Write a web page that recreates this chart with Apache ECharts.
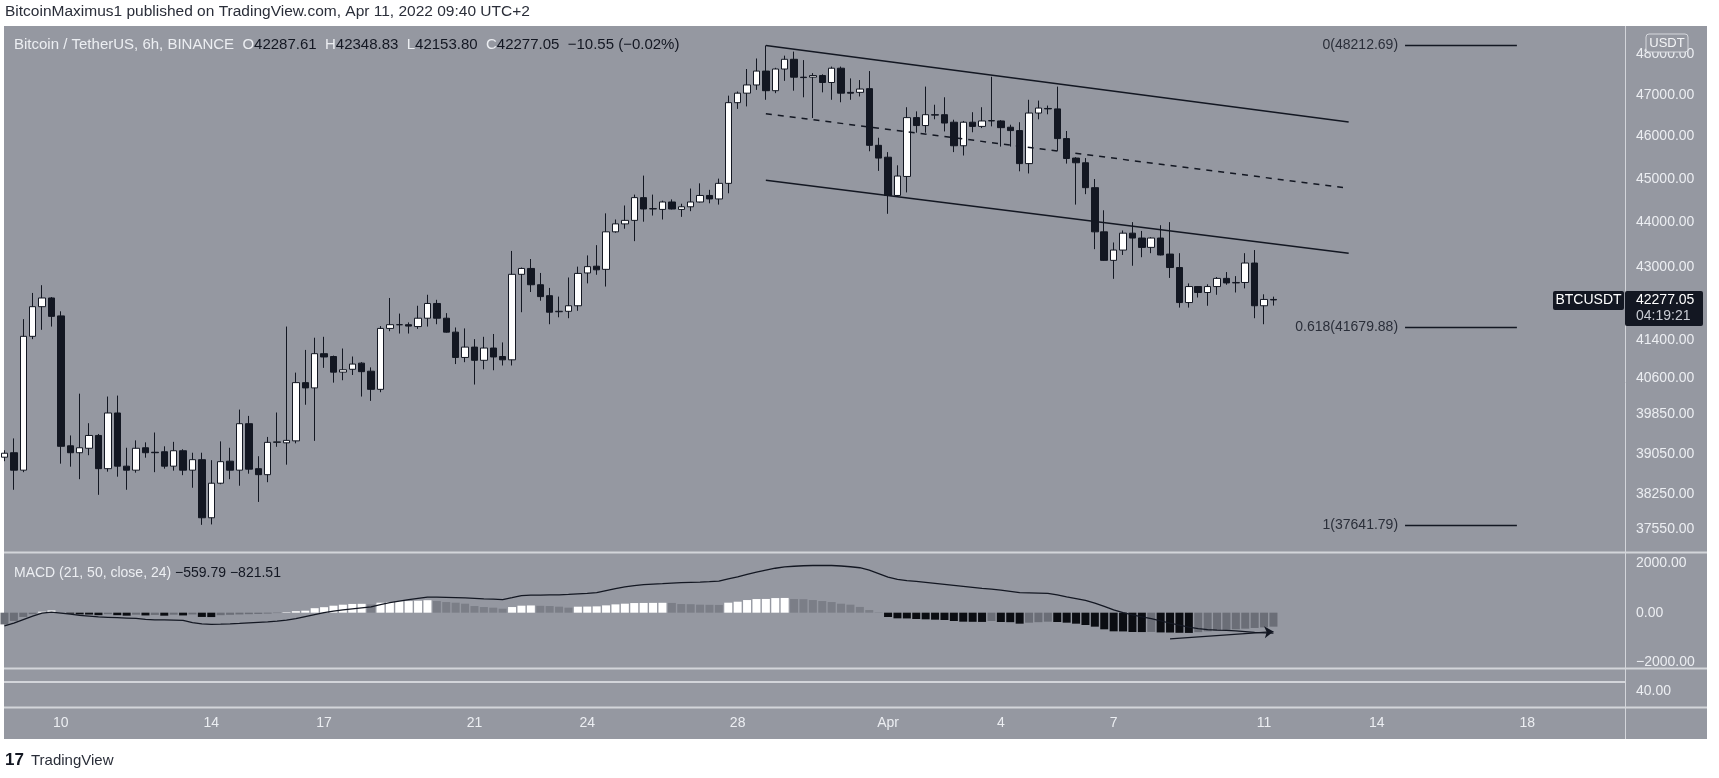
<!DOCTYPE html>
<html>
<head>
<meta charset="utf-8">
<title>BTCUSDT 6h</title>
<script src="https://cdn.jsdelivr.net/npm/echarts@6/dist/echarts.min.js"></script>
<style>
html, body { margin: 0; padding: 0; background: #fff; }
#chart { width: 1719px; height: 778px; }
</style>
</head>
<body>
<div id="chart"></div>
<script>
// 6h bars from Mar 8 14:00 to Apr 11 08:00 (UTC+2): [open, close, low, high]
var candles = [
  [38980, 39060, 38900, 39120], [39070, 38720, 38330, 39360], [38720, 41490, 38680, 41860], [41490, 42130, 41430, 42430],
  [42130, 42320, 41630, 42600], [42320, 41920, 41700, 42340], [41930, 39200, 38850, 42030], [39210, 39070, 38790, 39420],
  [39070, 39170, 38540, 40280], [39160, 39420, 39020, 39670], [39420, 38750, 38230, 39450], [38750, 39880, 38690, 40220],
  [39880, 38800, 38590, 40240], [38800, 38720, 38330, 39170], [38720, 39160, 38670, 39320], [39170, 39070, 38970, 39280],
  [39080, 39070, 38680, 39480], [39090, 38800, 38750, 39200], [38800, 39110, 38710, 39290], [39110, 38720, 38620, 39140],
  [38720, 38930, 38370, 39070], [38930, 37780, 37642, 39070], [37780, 38460, 37650, 38920], [38460, 38890, 38440, 39300],
  [38900, 38720, 38540, 39170], [38720, 39660, 38410, 39950], [39660, 38740, 38650, 39820], [38750, 38630, 38090, 39000],
  [38630, 39280, 38480, 39390], [39280, 39290, 39190, 39890], [39270, 39320, 38830, 41700], [39310, 40510, 39260, 40720],
  [40510, 40400, 40050, 41200], [40400, 41120, 39310, 41460], [41120, 41050, 40820, 41480], [41060, 40730, 40510, 41080],
  [40730, 40780, 40560, 41230], [40790, 40900, 40670, 41060], [40920, 40740, 40220, 40940], [40750, 40370, 40130, 40830],
  [40370, 41660, 40310, 41710], [41660, 41740, 41600, 42320], [41740, 41740, 41550, 41980], [41740, 41710, 41550, 41790],
  [41700, 41880, 41650, 42150], [41880, 42200, 41700, 42390], [42200, 41880, 41750, 42280], [41880, 41580, 41570, 41990],
  [41580, 41040, 40900, 41680], [41040, 41260, 40940, 41660], [41260, 40980, 40470, 41430], [40980, 41240, 40790, 41480],
  [41240, 41050, 40770, 41540], [41060, 40990, 40870, 41360], [40990, 42840, 40870, 43360], [42840, 42970, 42010, 42990],
  [42970, 42610, 42450, 43180], [42610, 42350, 42260, 42870], [42370, 42010, 41750, 42540], [42020, 42030, 41900, 42350],
  [42030, 42150, 41880, 42770], [42150, 42860, 42040, 43010], [42870, 43010, 42640, 43260], [43020, 42940, 42830, 43490],
  [42950, 43790, 42570, 44210], [43790, 43970, 43770, 44070], [43970, 44050, 43860, 44390], [44050, 44570, 43580, 44640],
  [44570, 44310, 44020, 45080], [44310, 44320, 44160, 44640], [44300, 44470, 44070, 44500], [44470, 44310, 44300, 44530],
  [44300, 44360, 44130, 44430], [44360, 44470, 44260, 44780], [44470, 44620, 44460, 44900], [44620, 44540, 44440, 44750],
  [44540, 44900, 44410, 45010], [44900, 46810, 44670, 46980], [46810, 47040, 46660, 47080], [47040, 47240, 46720, 47630],
  [47240, 47580, 47120, 47890], [47580, 47100, 46880, 48212.69], [47100, 47630, 47040, 47660], [47630, 47870, 47340, 47960],
  [47870, 47430, 47100, 48060], [47430, 47420, 46940, 47850], [47430, 47470, 46440, 47530], [47470, 47300, 47060, 47500],
  [47300, 47650, 46880, 47690], [47650, 47040, 46820, 47690], [47060, 47040, 46880, 47400], [47060, 47140, 46960, 47360],
  [47150, 45790, 45650, 47580], [45790, 45490, 45190, 45970], [45510, 44620, 44200, 45630], [44620, 45070, 44600, 45320],
  [45060, 46450, 44690, 46700], [46450, 46260, 46090, 46600], [46260, 46520, 46090, 47200], [46520, 46510, 46410, 46760],
  [46520, 46320, 46120, 46940], [46340, 45780, 45630, 46400], [45780, 46340, 45550, 46370], [46340, 46240, 46100, 46580],
  [46240, 46370, 46200, 46700], [46370, 46380, 46240, 47440], [46370, 46210, 45760, 46390], [46220, 46140, 45760, 46280],
  [46140, 45360, 45180, 46340], [45360, 46560, 45130, 46880], [46560, 46680, 46410, 46860], [46670, 46660, 46530, 46740],
  [46660, 45950, 45660, 47200], [45950, 45480, 45360, 46130], [45490, 45380, 44410, 45510], [45380, 44800, 44650, 45490],
  [44800, 43790, 43400, 45000], [43790, 43150, 43140, 44280], [43150, 43380, 42740, 43550], [43380, 43760, 43270, 43820],
  [43760, 43650, 43030, 44010], [43650, 43440, 43220, 43810], [43440, 43650, 43310, 43670], [43650, 43270, 43260, 43940],
  [43290, 42990, 42760, 44010], [42990, 42220, 42110, 43310], [42220, 42570, 42110, 42640], [42570, 42440, 42330, 42580],
  [42440, 42570, 42150, 42620], [42570, 42750, 42390, 42780], [42750, 42650, 42610, 42890], [42650, 42660, 42440, 42800],
  [42660, 43090, 42530, 43310], [43090, 42150, 41880, 43380], [42150, 42287.61, 41750, 42400], [42287.61, 42277.05, 42153.80, 42348.83]
];

// MACD (21, 50, close, 24)
var macdHist = [
  -470, -330, -170, -60, 40, 90, 10, -40, -70, -75,
  -100, -60, -100, -120, -80, -110, -90, -120, -80, -110,
  -70, -170, -175, -100, -85, -70, -60, -50, -35, -15,
  20, 60, 80, 180, 220, 280, 320, 350, 355, 330,
  400, 430, 460, 465, 480, 500, 466, 426, 400, 360,
  266, 226, 200, 160, 226, 280, 290, 275, 266, 240,
  200, 240, 245, 253, 293, 333, 360, 386, 390, 393,
  396, 390, 346, 340, 320, 315, 310, 400, 440, 506,
  546, 550, 585, 590, 546, 540, 506, 466, 426, 360,
  320, 230, 106, 15, -173, -226, -230, -253, -266, -280,
  -293, -333, -360, -365, -370, -333, -373, -380, -440, -400,
  -380, -360, -373, -400, -440, -493, -560, -666, -746, -750,
  -773, -776, -770, -790, -795, -805, -810, -780, -745, -715,
  -690, -665, -640, -612, -590, -559.79
];
var macdLine = [
  -530, -420, -280, -140, -20, 20, -20, -60, -110, -140,
  -170, -185, -200, -215, -230, -270, -285, -290, -300, -310,
  -400, -450, -466, -460, -450, -430, -405, -385, -365, -340,
  -300, -240, -160, -80, 0, 60, 110, 150, 190, 230,
  320, 400, 460, 520, 570, 620, 625, 615, 605, 590,
  570, 550, 540, 525, 600, 680, 700, 705, 710, 715,
  730, 750, 770, 800, 880, 960, 1030, 1080, 1120, 1145,
  1160, 1180, 1200, 1215, 1225, 1240, 1265, 1350, 1430, 1530,
  1620, 1700, 1780, 1835, 1860, 1880, 1890, 1890, 1890, 1870,
  1840, 1800, 1700, 1560, 1420, 1330, 1280, 1250, 1210, 1170,
  1130, 1090, 1050, 1010, 970, 940, 900, 850, 800, 790,
  780, 770, 710, 630, 560, 490, 380, 250, 110, 0,
  -90, -170, -240, -330, -420, -500, -580, -640, -680, -700,
  -710, -730, -760, -790, -810, -821.51
];

var priceTicks = [48000, 47000, 46000, 45000, 44000, 43000, 41400, 40600, 39850, 39050, 38250, 37550];
var macdTicks = [2000, 0, -2000];
var lowerTicks = [40];
var dayTickIdx = [6, 22, 34, 50, 62, 78, 94, 106, 118, 134, 146, 162];
var dayTickText = ['10', '14', '17', '21', '24', '28', 'Apr', '4', '7', '11', '14', '18'];

// drawings, in bar index / price
var fibLevels = [48212.69, 41679.88, 37641.79];
var fibNames = ['0', '0.618', '1'];
var fibSpan = [149, 160.9];
var channelTop = [81, 48212.69, 143, 46344];
var channelMid = [81, 46543, 142.4, 44804];
var channelBot = [81, 44972, 143, 43307];
var macdArrow = [124, -1048, 135, -757];
var lastClose = 42277.05;
var timeLeft = '04:19:21';

var FONT = "'Liberation Sans', Arial, sans-serif";
var BG = '#9598a1';
var DARK = '#131722';
var LIGHT = '#eceef2';
var SEP = '#d3d5da';

var xMin = -0.05, xMax = 172.4;

var chart = echarts.init(document.getElementById('chart'));

var fmt2 = function(v) {
  var s = Math.abs(Math.round(v)).toFixed(2);
  return v < 0 ? '\u2212' + s : s;
};

var histColor = function(i) {
  var v = macdHist[i];
  var p = i > 0 ? macdHist[i - 1] : v;
  if (v >= 0) return v >= p ? '#ffffff' : '#7b7e87';
  return v < p ? '#0b0d12' : '#6b6e77';
};

var segLine = function(seg, dashed) {
  return [
    {coord: [seg[0], seg[1]], lineStyle: {color: DARK, width: 1.5, type: dashed ? [6, 6] : 'solid'}},
    {coord: [seg[2], seg[3]]}
  ];
};

var drawLines = [segLine(channelTop), segLine(channelMid, true), segLine(channelBot)];
for (var k = 0; k < fibLevels.length; k++) {
  drawLines.push([
    {coord: [fibSpan[0], fibLevels[k]], lineStyle: {color: DARK, width: 1.3, type: 'solid'},
     label: {show: true, position: 'start', distance: 7, color: '#2a2e39', fontSize: 14, fontFamily: FONT,
             formatter: fibNames[k] + '(' + fibLevels[k].toFixed(2) + ')'}},
    {coord: [fibSpan[1], fibLevels[k]]}
  ]);
}

var hideAxis = {show: false};

var baseGraphics = [
  {id: 'bg', type: 'rect', z: -5, silent: true, shape: {x: 4, y: 26, width: 1703, height: 713}, style: {fill: BG}},
  {id: 's1', type: 'line', z: 50, silent: true, shape: {x1: 4, y1: 552.5, x2: 1707, y2: 552.5}, style: {stroke: SEP, lineWidth: 2}},
  {id: 's2', type: 'line', z: 50, silent: true, shape: {x1: 4, y1: 668.5, x2: 1707, y2: 668.5}, style: {stroke: SEP, lineWidth: 2}},
  {id: 's3', type: 'line', z: 50, silent: true, shape: {x1: 4, y1: 682, x2: 1625, y2: 682}, style: {stroke: SEP, lineWidth: 2}},
  {id: 's4', type: 'line', z: 50, silent: true, shape: {x1: 4, y1: 707.5, x2: 1707, y2: 707.5}, style: {stroke: SEP, lineWidth: 2}},
  {id: 's5', type: 'line', z: 50, silent: true, shape: {x1: 1625.5, y1: 26, x2: 1625.5, y2: 739}, style: {stroke: SEP, lineWidth: 1}},
  {id: 'head', type: 'text', z: 60, x: 5, y: 12, style: {
    text: 'BitcoinMaximus1 published on TradingView.com, Apr 11, 2022 09:40 UTC+2',
    fill: '#2a2e39', font: '15.5px ' + FONT, verticalAlign: 'middle'}},
  {id: 'sym', type: 'text', z: 60, x: 14, y: 45, style: {
    text: '{l|Bitcoin / TetherUS, 6h, BINANCE}  {l|O}{d|42287.61}  {l|H}{d|42348.83}  {l|L}{d|42153.80}  {l|C}{d|42277.05}  {d|\u221210.55 (\u22120.02%)}',
    verticalAlign: 'middle', font: '15px ' + FONT,
    rich: {l: {fill: LIGHT, font: '15px ' + FONT}, d: {fill: DARK, font: '15px ' + FONT}}}},
  {id: 'macdT', type: 'text', z: 60, x: 14, y: 573, style: {
    text: '{l|MACD (21, 50, close, 24)} {d|\u2212559.79} {d|\u2212821.51}',
    verticalAlign: 'middle', font: '14px ' + FONT,
    rich: {l: {fill: LIGHT, font: '14px ' + FONT}, d: {fill: DARK, font: '14px ' + FONT}}}},
  {id: 'usdt', type: 'rect', z: 60, silent: true, shape: {x: 1646, y: 34, width: 42, height: 18, r: 3},
   style: {fill: BG, stroke: '#d6d8dd', lineWidth: 1}},
  {id: 'usdtT', type: 'text', z: 61, x: 1667, y: 43, style: {
    text: 'USDT', fill: '#f4f5f7', font: '13px ' + FONT, align: 'center', verticalAlign: 'middle'}},
  {id: 'logo', type: 'text', z: 60, x: 5, y: 760, style: {
    text: '17', fill: DARK, font: 'bold 17px ' + FONT, verticalAlign: 'middle'}},
  {id: 'logoT', type: 'text', z: 60, x: 31, y: 761, style: {
    text: 'TradingView', fill: '#2a2e39', font: '15px ' + FONT, verticalAlign: 'middle'}}
];

var option = {
  animation: false,
  backgroundColor: '#ffffff',
  grid: [
    {left: 4, top: 26, width: 1621, height: 526},
    {left: 4, top: 553, width: 1621, height: 115},
    {left: 4, top: 668, width: 1621, height: 39}
  ],
  xAxis: [
    {type: 'value', gridIndex: 0, min: xMin, max: xMax, show: false},
    {type: 'value', gridIndex: 1, min: xMin, max: xMax, show: false},
    {type: 'value', gridIndex: 2, min: xMin, max: xMax,
     axisLine: hideAxis, axisTick: hideAxis, splitLine: hideAxis,
     axisLabel: {customValues: dayTickIdx, color: LIGHT, fontSize: 14, fontFamily: FONT, margin: 9,
       formatter: function(v) {
         var k = dayTickIdx.indexOf(Math.round(v));
         return k >= 0 ? dayTickText[k] : '';
       }}}
  ],
  yAxis: [
    {type: 'log', gridIndex: 0, position: 'right', min: 37118, max: 48700,
     axisLine: hideAxis, axisTick: hideAxis, splitLine: hideAxis,
     axisLabel: {customValues: priceTicks, color: LIGHT, fontSize: 14, fontFamily: FONT, margin: 11,
       formatter: fmt2}},
    {type: 'value', gridIndex: 1, position: 'right', min: -2215, max: 2390,
     axisLine: hideAxis, axisTick: hideAxis, splitLine: hideAxis,
     axisLabel: {customValues: macdTicks, color: LIGHT, fontSize: 14, fontFamily: FONT, margin: 11,
       formatter: fmt2}},
    {type: 'value', gridIndex: 2, position: 'right', min: 0, max: 100,
     axisLine: hideAxis, axisTick: hideAxis, splitLine: hideAxis,
     axisLabel: {customValues: lowerTicks, color: LIGHT, fontSize: 14, fontFamily: FONT, margin: 11,
       formatter: fmt2}}
  ],
  series: [
    {
      name: 'BTCUSDT',
      type: 'candlestick',
      xAxisIndex: 0,
      yAxisIndex: 0,
      clip: true,
      barWidth: 7,
      encode: {x: 0, y: [1, 2, 3, 4]},
      data: candles.map(function(c, i) { return [i, c[0], c[1], c[2], c[3]]; }),
      itemStyle: {color: '#ffffff', color0: DARK, borderColor: DARK, borderColor0: DARK, borderWidth: 1}
    },
    {
      name: 'drawings',
      type: 'line',
      xAxisIndex: 0,
      yAxisIndex: 0,
      data: [],
      markLine: {silent: true, symbol: ['none', 'none'], label: {show: false}, data: drawLines}
    },
    {
      name: 'Histogram',
      type: 'bar',
      xAxisIndex: 1,
      yAxisIndex: 1,
      barWidth: 8,
      data: macdHist.map(function(v, i) { return {value: [i, v], itemStyle: {color: histColor(i)}}; })
    },
    {
      name: 'MACD',
      type: 'line',
      xAxisIndex: 1,
      yAxisIndex: 1,
      symbol: 'none',
      lineStyle: {color: DARK, width: 1.3},
      data: macdLine.map(function(v, i) { return [i, v]; }),
      markLine: {
        silent: true, symbol: ['none', 'arrow'], symbolSize: 9,
        label: {show: false},
        lineStyle: {color: DARK, width: 1.3, type: 'solid'},
        data: [[{coord: [macdArrow[0], macdArrow[1]]}, {coord: [macdArrow[2], macdArrow[3]]}]]
      }
    }
  ],
  graphic: baseGraphics
};

chart.setOption(option);

// price tag on the axis, placed through the price scale
var yTag = chart.convertToPixel({yAxisIndex: 0}, lastClose);
var tagGraphics = baseGraphics.concat([
  {id: 'symBox', type: 'rect', z: 70, shape: {x: 1553, y: yTag - 9, width: 71, height: 19, r: 2}, style: {fill: DARK}},
  {id: 'symTxt', type: 'text', z: 71, x: 1588.5, y: yTag + 0.5, style: {
    text: 'BTCUSDT', fill: '#ffffff', font: '14px ' + FONT, align: 'center', verticalAlign: 'middle'}},
  {id: 'pxBox', type: 'rect', z: 70, shape: {x: 1625, y: yTag - 9, width: 78, height: 35, r: 2}, style: {fill: DARK}},
  {id: 'pxTxt', type: 'text', z: 71, x: 1636, y: yTag + 0.5, style: {
    text: lastClose.toFixed(2), fill: '#ffffff', font: '14px ' + FONT, verticalAlign: 'middle'}},
  {id: 'pxTime', type: 'text', z: 71, x: 1636, y: yTag + 16.5, style: {
    text: timeLeft, fill: '#c9ccd4', font: '14px ' + FONT, verticalAlign: 'middle'}}
]);
chart.setOption({graphic: tagGraphics});
</script>
</body>
</html>
